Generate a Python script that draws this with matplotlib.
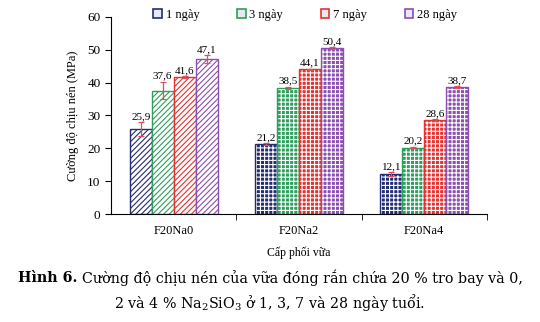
import numpy as np
import matplotlib.pyplot as plt
from matplotlib.patches import Patch

# ----------------------------
# Data
# ----------------------------
mixes = ["F20Na0", "F20Na2", "F20Na4"]
ages = ["1 ngày", "3 ngày", "7 ngày", "28 ngày"]
strength = {
    "1 ngày": [25.9, 21.2, 12.1],
    "3 ngày": [37.6, 38.5, 20.2],
    "7 ngày": [41.6, 44.1, 28.6],
    "28 ngày": [47.1, 50.4, 38.7],
}
errors = {
    "1 ngày": [2.0, 0.3, 0.6],
    "3 ngày": [2.7, 0.3, 0.2],
    "7 ngày": [0.3, 0.2, 0.2],
    "28 ngày": [1.2, 0.3, 0.2],
}
labels = {
    "1 ngày": ["25,9", "21,2", "12,1"],
    "3 ngày": ["37,6", "38,5", "20,2"],
    "7 ngày": ["41,6", "44,1", "28,6"],
    "28 ngày": ["47,1", "50,4", "38,7"],
}
colors = ["#232d72", "#2f9e5c", "#e5312f", "#8a4fb0"]

plt.rcParams['font.family'] = ['Liberation Serif', 'DejaVu Serif']
plt.rcParams['mathtext.fontset'] = 'custom'
plt.rcParams['mathtext.rm'] = 'DejaVu Serif'
plt.rcParams['hatch.linewidth'] = 0.8

fig = plt.figure(figsize=(5.4, 3.22), dpi=100)
ax = fig.add_axes([0.2056, 0.3354, 0.696, 0.612])

x = np.arange(len(mixes))
width = 0.175
for k, age in enumerate(ages):
    pos = x + (k - 1.5) * width
    vals = strength[age]
    for i in range(len(mixes)):
        if i == 0:
            # first mix: white bars with diagonal hatching
            ax.bar(pos[i], vals[i], width, color="white", edgecolor=colors[k],
                   hatch="//////", linewidth=0.0)
        else:
            # other mixes: filled bars with white checker pattern
            ax.bar(pos[i], vals[i], width, color=colors[k], edgecolor="white",
                   hatch="++++", linewidth=0.0)
        ax.bar(pos[i], vals[i], width, fill=False, edgecolor=colors[k], linewidth=1.0)
    ax.errorbar(pos, vals, yerr=errors[age], fmt="none", ecolor="#e0505a",
                elinewidth=0.9, capsize=2.5, capthick=0.9)
    for i in range(len(mixes)):
        ax.text(pos[i], vals[i] + errors[age][i] + 0.4, labels[age][i],
                ha="center", va="bottom", fontsize=8)

ax.set_xlim(-0.5, 2.5)
ax.set_ylim(0, 60)
ax.set_yticks(range(0, 61, 10))
ax.tick_params(axis="y", labelsize=9.5, length=4, direction="out")
ax.set_xticks(x)
ax.set_xticklabels(mixes, fontsize=9)
ax.tick_params(axis="x", length=0, pad=8)
ax.set_xticks([0.5, 1.5, 2.5], minor=True)
ax.tick_params(axis="x", which="minor", length=4, direction="out")
for s in ["top", "right"]:
    ax.spines[s].set_visible(False)
ax.set_ylabel("Cường độ chịu nén (MPa)", fontsize=9, labelpad=6)
ax.set_xlabel("Cấp phối vữa", fontsize=8.5, labelpad=7)

handles = [Patch(facecolor="#e8e8f0", edgecolor=c, linewidth=1.2) for c in colors]
fig.legend(handles, ages, loc="center", bbox_to_anchor=(0.565, 0.953), ncol=4,
           frameon=False, fontsize=9, handlelength=0.7, handleheight=0.7,
           handletextpad=0.3, columnspacing=3.0)

# caption
cap_size = 10.3
bold = fig.text(0.033, 0.137, "Hình 6.", fontsize=cap_size, fontweight="bold",
                family="DejaVu Serif", va="center")
fig.canvas.draw()
bb = bold.get_window_extent().transformed(fig.transFigure.inverted())
fig.text(bb.x1 + 0.008, 0.137,
         "Cường độ chịu nén của vữa đóng rắn chứa 20 % tro bay và 0,",
         fontsize=cap_size, family="DejaVu Serif", va="center")
fig.text(0.5, 0.062,
         r"2 và 4 % Na$_\mathrm{2}$SiO$_\mathrm{3}$ ở 1, 3, 7 và 28 ngày tuổi.",
         fontsize=cap_size, family="DejaVu Serif", va="center", ha="center")

fig.savefig("out.png", dpi=100)
